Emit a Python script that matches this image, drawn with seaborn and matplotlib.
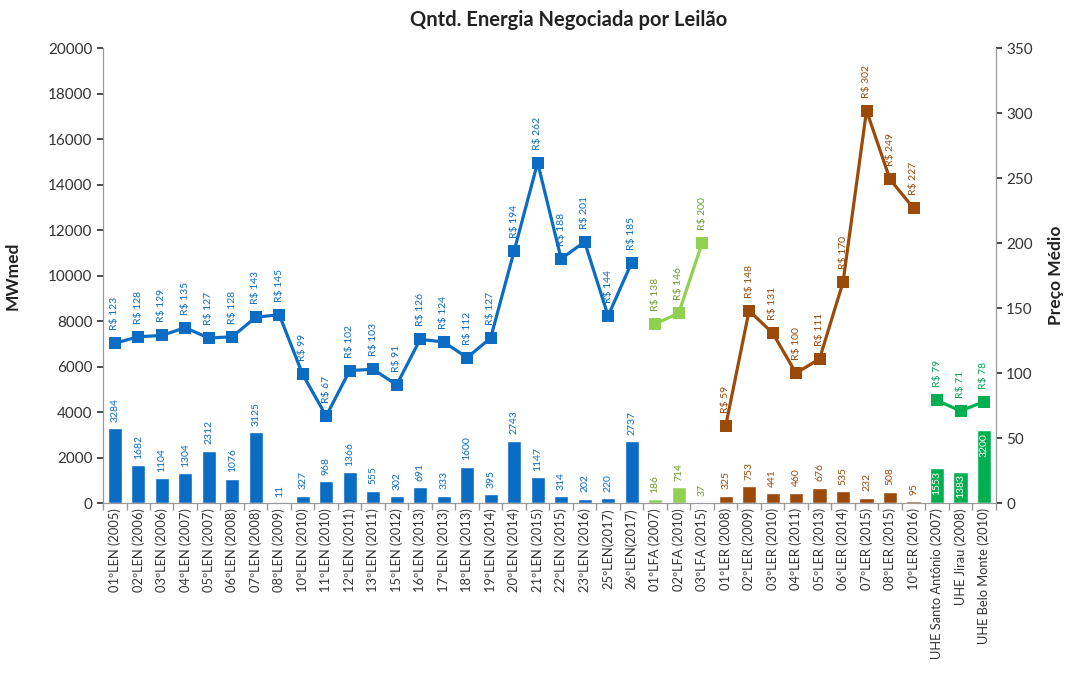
import matplotlib
matplotlib.use("Agg")
import matplotlib.pyplot as plt
import seaborn as sns
import pandas as pd
import numpy as np

# ---- data ----
len_labels = ["01ºLEN (2005)", "02ºLEN (2006)", "03ºLEN (2006)", "04ºLEN (2007)", "05ºLEN (2007)",
              "06ºLEN (2008)", "07ºLEN (2008)", "08ºLEN (2009)", "10ºLEN (2010)", "11ºLEN (2010)",
              "12ºLEN (2011)", "13ºLEN (2011)", "15ºLEN (2012)", "16ºLEN (2013)", "17ºLEN (2013)",
              "18ºLEN (2013)", "19ºLEN (2014)", "20ºLEN (2014)", "21ºLEN (2015)", "22ºLEN (2015)",
              "23ºLEN (2016)", "25ºLEN(2017)", "26ºLEN(2017)"]
len_mw = [3284, 1682, 1104, 1304, 2312, 1076, 3125, 11, 327, 968, 1366, 555, 302, 691, 333,
          1600, 395, 2743, 1147, 314, 202, 220, 2737]
len_price = [123, 128, 129, 135, 127, 128, 143, 145, 99, 67, 102, 103, 91, 126, 124, 112, 127,
             194, 262, 188, 201, 144, 185]

lfa_labels = ["01ºLFA (2007)", "02ºLFA (2010)", "03ºLFA (2015)"]
lfa_mw = [186, 714, 37]
lfa_price = [138, 146, 200]

ler_labels = ["01ºLER (2008)", "02ºLER (2009)", "03ºLER (2010)", "04ºLER (2011)", "05ºLER (2013)",
              "06ºLER (2014)", "07ºLER (2015)", "08ºLER (2015)", "10ºLER (2016)"]
ler_mw = [325, 753, 441, 460, 676, 535, 232, 508, 95]
ler_price = [59, 148, 131, 100, 111, 170, 302, 249, 227]

uhe_labels = ["UHE Santo Antônio (2007)", "UHE Jirau (2008)", "UHE Belo Monte (2010)"]
uhe_mw = [1553, 1383, 3200]
uhe_price = [79, 71, 78]

groups = ["LEN", "LFA", "LER", "UHE"]
bar_colors = {"LEN": "#0B6CC4", "LFA": "#92D050", "LER": "#9C4A0A", "UHE": "#00B050"}
text_colors = {"LEN": "#0B6CC4", "LFA": "#6C9E2A", "LER": "#9C4A0A", "UHE": "#00A550"}

rows = []
for g, labs, mw, pr in [("LEN", len_labels, len_mw, len_price),
                        ("LFA", lfa_labels, lfa_mw, lfa_price),
                        ("LER", ler_labels, ler_mw, ler_price),
                        ("UHE", uhe_labels, uhe_mw, uhe_price)]:
    for l, m, p in zip(labs, mw, pr):
        rows.append({"label": l, "mw": m, "price": p, "grupo": g})
df = pd.DataFrame(rows)
df["pos"] = np.arange(len(df))

# ---- plot ----
sns.set_theme(style="white")
plt.rcParams["font.family"] = ["Lato", "DejaVu Sans"]

fig = plt.figure(figsize=(10.73, 6.79), dpi=100)
ax = fig.add_axes([0.096, 0.259, 0.832, 0.67])

sns.barplot(data=df, x="label", y="mw", hue="grupo", palette=bar_colors, dodge=False,
            width=0.6, legend=False, ax=ax, saturation=1)
ax.set_ylim(0, 20000)
ax.set_xlim(-0.5, len(df) - 0.5)
ax.set_yticks(np.arange(0, 20001, 2000))
ax.set_ylabel("MWmed", fontsize=12.5, fontweight="bold", color="#222222")
ax.yaxis.set_label_coords(-0.092, 0.5)
ax.set_xlabel("")
ax.tick_params(axis="x", labelrotation=90, labelsize=9.3, colors="#333333", length=0)
ax.tick_params(axis="y", labelsize=11, colors="#333333", length=4, left=True)
ax.set_xticks(np.arange(-0.5, len(df), 1), minor=True)
ax.tick_params(axis="x", which="minor", length=5, color="#999999", bottom=True)

ax2 = ax.twinx()
sns.lineplot(data=df, x="pos", y="price", hue="grupo", palette=bar_colors, marker="s",
             markersize=8, markeredgewidth=0, linewidth=2.3, legend=False, ax=ax2)
ax2.set_ylim(0, 350)
ax2.set_yticks(np.arange(0, 351, 50))
ax2.set_ylabel("Preço Médio", fontsize=12.5, fontweight="bold", color="#222222")
ax2.yaxis.set_label_coords(1.058, 0.5)
ax2.set_xlabel("")
ax2.tick_params(axis="y", labelsize=11, colors="#333333", length=4, right=True)
ax.set_xlim(-0.5, len(df) - 0.5)

for a in (ax, ax2):
    a.spines["top"].set_visible(False)
    for s in ("left", "right", "bottom"):
        a.spines[s].set_color("#999999")
        a.spines[s].set_linewidth(0.8)

# labels
for _, r in df.iterrows():
    g = r["grupo"]
    if g == "UHE":
        ax.text(r["pos"], r["mw"] - 120, f"{r['mw']}", rotation=90, ha="center", va="top",
                fontsize=7.5, color="white")
    else:
        ax.text(r["pos"], r["mw"] + 280, f"{r['mw']}", rotation=90, ha="center", va="bottom",
                fontsize=7.5, color=text_colors[g])
    ax2.text(r["pos"], r["price"] + 10, f"R$ {r['price']}", rotation=90, ha="center",
             va="bottom", fontsize=7.5, color=text_colors[g])

fig.suptitle("Qntd. Energia Negociada por Leilão", x=0.53, y=0.985, fontsize=14.5,
             fontweight="bold", color="#222222")

fig.savefig("out.png", dpi=100)
